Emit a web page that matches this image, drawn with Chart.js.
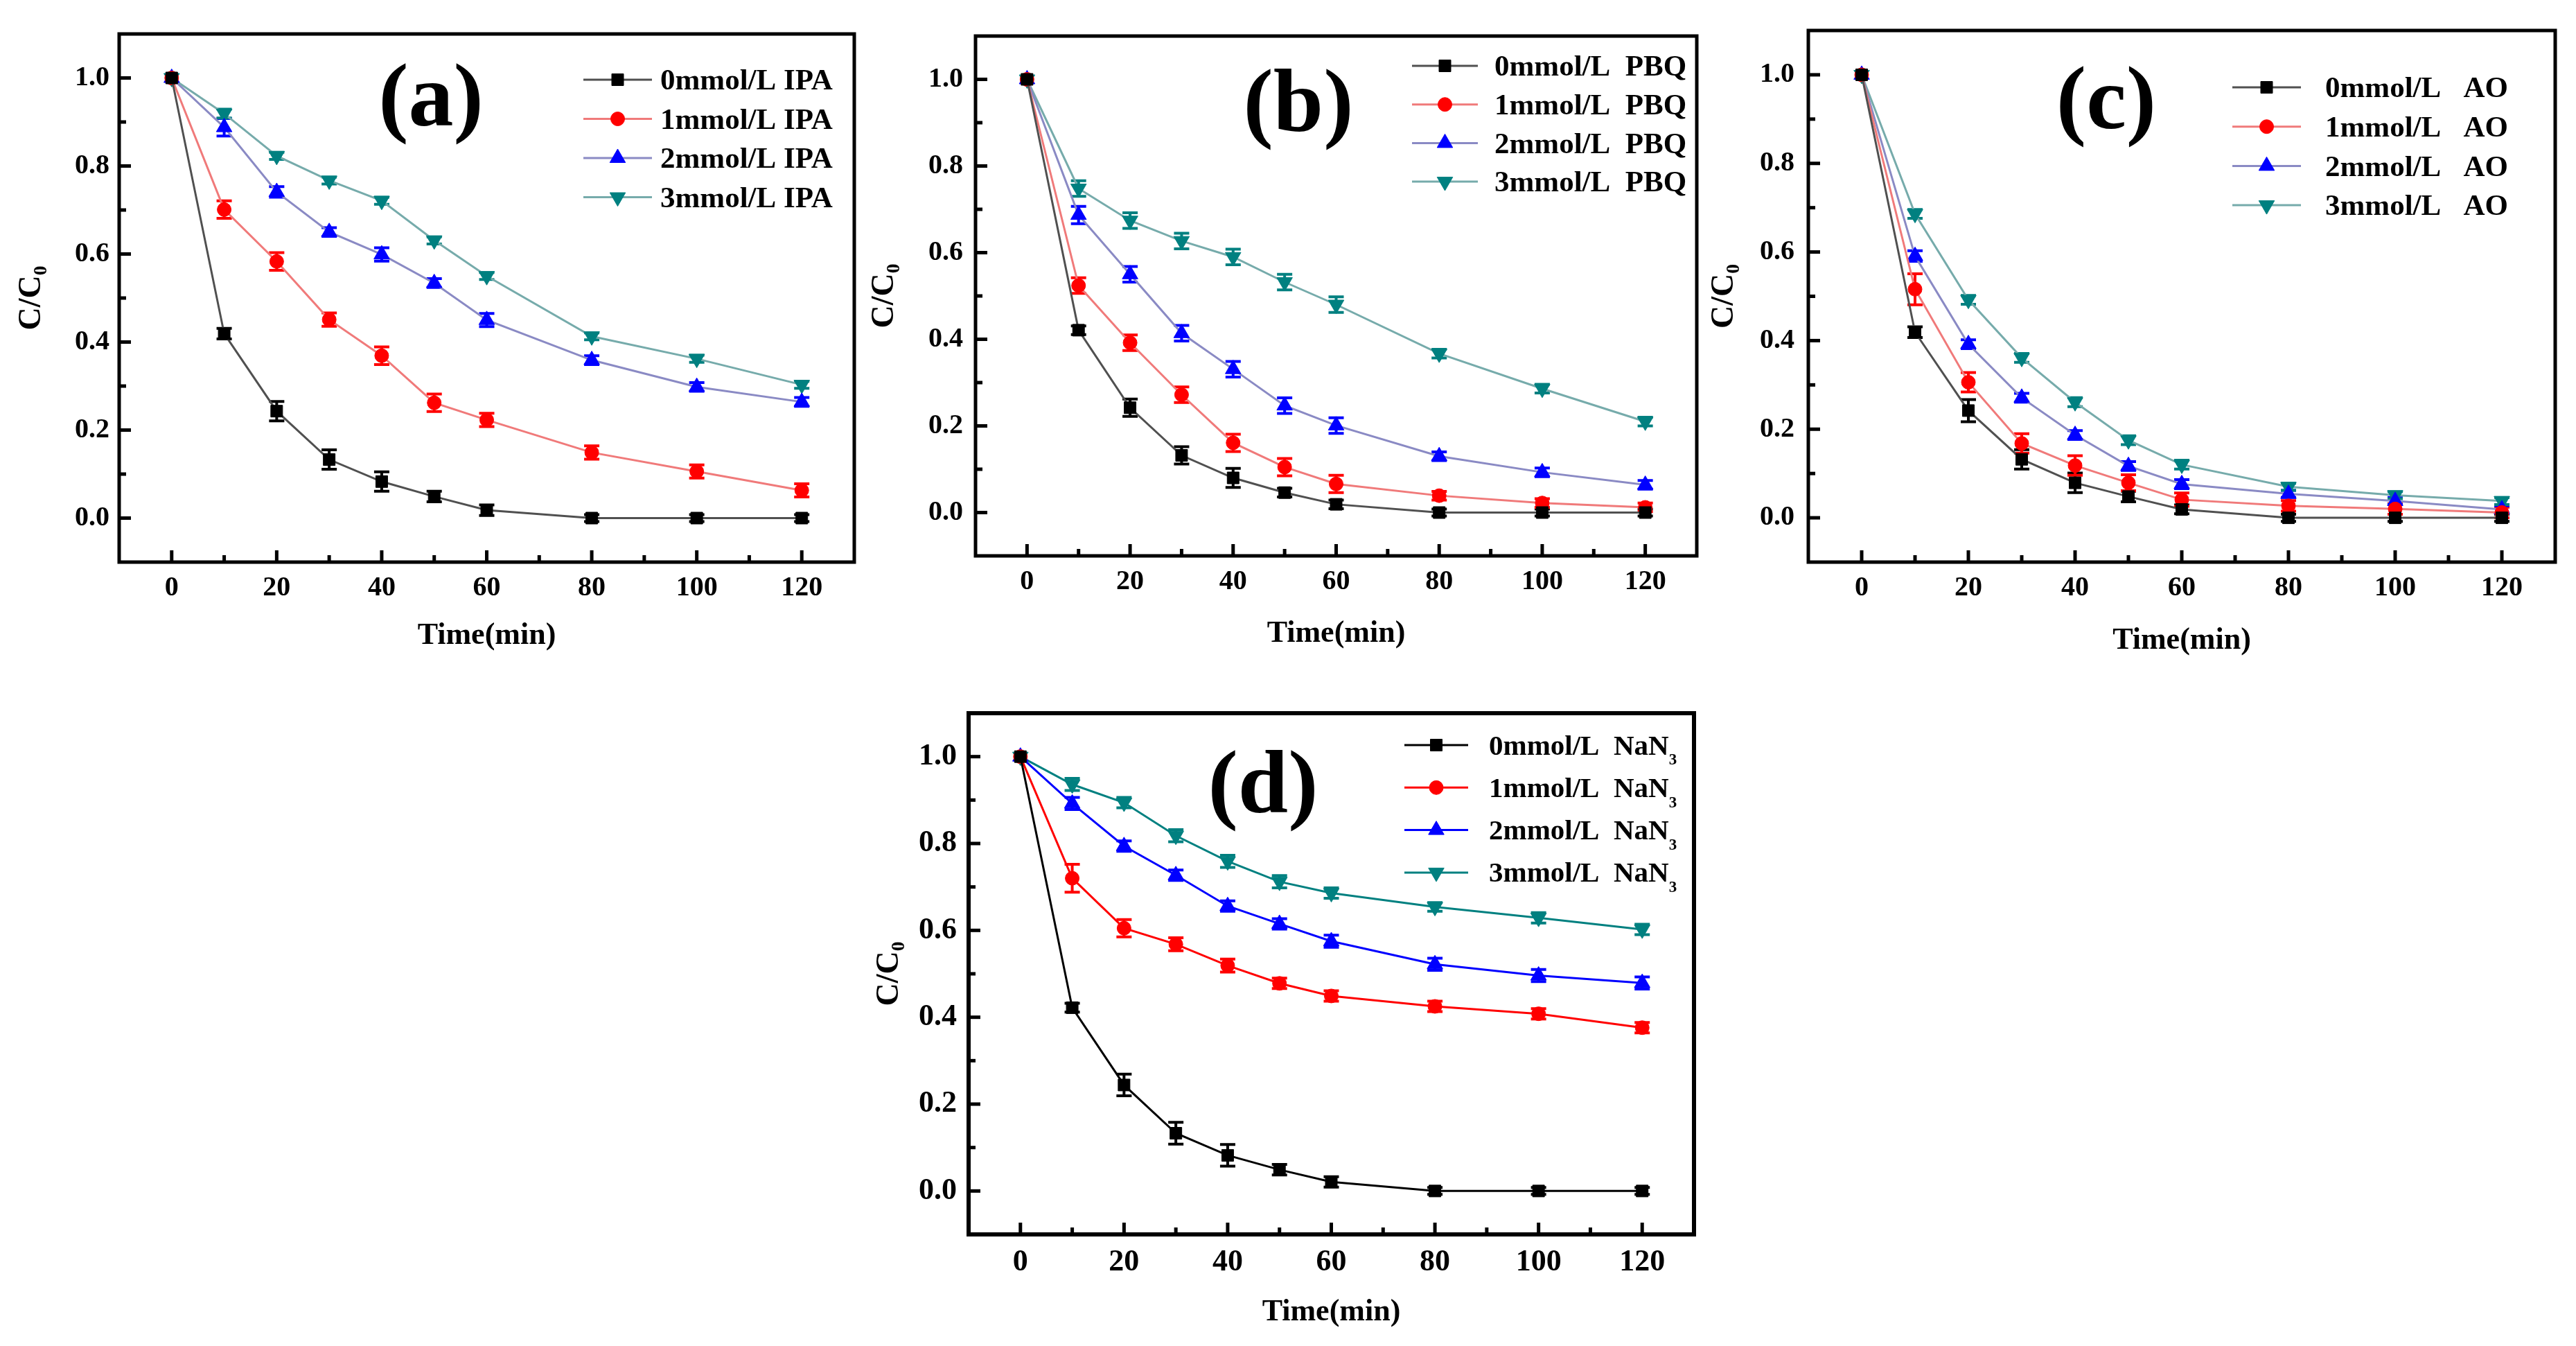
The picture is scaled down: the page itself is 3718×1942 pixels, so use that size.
<!DOCTYPE html>
<html>
<head>
<meta charset="utf-8">
<script src="https://cdn.jsdelivr.net/npm/chart.js@4.4.1/dist/chart.umd.min.js"></script>
<style>
  html, body { margin: 0; padding: 0; background: #fff; }
  body { width: 3718px; height: 1942px; position: relative; overflow: hidden; }
  canvas { position: absolute; }
</style>
</head>
<body>
<canvas id="chartA"></canvas>
<canvas id="chartB"></canvas>
<canvas id="chartC"></canvas>
<canvas id="chartD"></canvas>
<script>
// ---- data ----
const timeMin = [0, 10, 20, 30, 40, 50, 60, 80, 100, 120];
const tickLabelsX = [0, 20, 40, 60, 80, 100, 120];
const tickLabelsY = [0, 0.2, 0.4, 0.6, 0.8, 1.0];
const seriesNames = ['0mmol/L', '1mmol/L', '2mmol/L', '3mmol/L'];

// (a) IPA
const ipa0 = [1.0, 0.419, 0.243, 0.133, 0.083, 0.049, 0.018, 0, 0, 0];
const ipa1 = [1.0, 0.701, 0.583, 0.451, 0.369, 0.262, 0.223, 0.149, 0.106, 0.063];
const ipa2 = [1.0, 0.888, 0.741, 0.650, 0.599, 0.534, 0.450, 0.359, 0.298, 0.264];
const ipa3 = [1.0, 0.919, 0.823, 0.767, 0.721, 0.631, 0.550, 0.413, 0.362, 0.303];
const ipaErr0 = [0, 0.012, 0.022, 0.022, 0.022, 0.012, 0.012, 0.008, 0.008, 0.008];
const ipaErr1 = [0, 0.020, 0.020, 0.015, 0.020, 0.020, 0.015, 0.015, 0.015, 0.015];
const ipaErr2 = [0, 0.020, 0.012, 0.010, 0.015, 0.010, 0.015, 0.010, 0.010, 0.010];
const ipaErr3 = [0, 0.010, 0.008, 0.008, 0.008, 0.008, 0.008, 0.008, 0.008, 0.008];

// (b) PBQ
const pbq0 = [1.0, 0.421, 0.242, 0.132, 0.080, 0.046, 0.019, 0, 0, 0];
const pbq1 = [1.0, 0.524, 0.392, 0.272, 0.161, 0.105, 0.066, 0.039, 0.022, 0.012];
const pbq2 = [1.0, 0.687, 0.550, 0.414, 0.331, 0.247, 0.201, 0.130, 0.093, 0.064];
const pbq3 = [1.0, 0.748, 0.674, 0.627, 0.590, 0.532, 0.480, 0.367, 0.286, 0.210];
const pbqErr0 = [0, 0.010, 0.020, 0.020, 0.022, 0.010, 0.010, 0.008, 0.008, 0.008];
const pbqErr1 = [0, 0.018, 0.018, 0.018, 0.020, 0.020, 0.020, 0.010, 0.010, 0.010];
const pbqErr2 = [0, 0.020, 0.018, 0.018, 0.018, 0.018, 0.018, 0.010, 0.010, 0.010];
const pbqErr3 = [0, 0.018, 0.018, 0.018, 0.018, 0.018, 0.018, 0.010, 0.010, 0.010];

// (c) AO
const ao0 = [1.0, 0.419, 0.242, 0.132, 0.079, 0.048, 0.019, 0, 0, 0];
const ao1 = [1.0, 0.516, 0.306, 0.168, 0.118, 0.079, 0.041, 0.027, 0.020, 0.012];
const ao2 = [1.0, 0.591, 0.392, 0.271, 0.187, 0.117, 0.076, 0.054, 0.038, 0.019];
const ao3 = [1.0, 0.686, 0.492, 0.361, 0.261, 0.175, 0.120, 0.070, 0.051, 0.038];
const aoErr0 = [0, 0.012, 0.025, 0.022, 0.022, 0.012, 0.010, 0.008, 0.008, 0.008];
const aoErr1 = [0, 0.035, 0.022, 0.022, 0.022, 0.018, 0.015, 0.012, 0.012, 0.012];
const aoErr2 = [0, 0.012, 0.010, 0.010, 0.010, 0.010, 0.010, 0.008, 0.008, 0.008];
const aoErr3 = [0, 0.010, 0.010, 0.010, 0.010, 0.010, 0.010, 0.008, 0.008, 0.008];

// (d) NaN3
const nan0 = [1.0, 0.422, 0.244, 0.133, 0.082, 0.049, 0.021, 0, 0, 0];
const nan1 = [1.0, 0.720, 0.605, 0.568, 0.519, 0.478, 0.449, 0.425, 0.408, 0.376];
const nan2 = [1.0, 0.892, 0.794, 0.727, 0.656, 0.615, 0.575, 0.522, 0.496, 0.479];
const nan3 = [1.0, 0.936, 0.894, 0.818, 0.759, 0.712, 0.686, 0.654, 0.629, 0.602];
const nanErr0 = [0, 0.010, 0.025, 0.025, 0.025, 0.012, 0.012, 0.008, 0.008, 0.008];
const nanErr1 = [0, 0.032, 0.020, 0.015, 0.015, 0.012, 0.012, 0.012, 0.012, 0.012];
const nanErr2 = [0, 0.014, 0.012, 0.012, 0.012, 0.012, 0.014, 0.014, 0.014, 0.014];
const nanErr3 = [0, 0.014, 0.012, 0.014, 0.014, 0.014, 0.012, 0.010, 0.012, 0.012];

// ---- styles ----
const markerColor = ['#000000', '#ff0000', '#0000ff', '#008080'];
const fadedLine = ['#505050', '#f07a7a', '#8a8ac4', '#76abab'];
const pureLine = ['#000000', '#ff0000', '#0000ff', '#008080'];
const markerStyle = ['rect', 'circle', 'triangle', 'triangle'];
const markerRotation = [0, 0, 0, 180];
const markerSize = [12, 10, 13, 13];
const FONT = "'Liberation Serif', 'DejaVu Serif', serif";

Chart.defaults.font.family = FONT;
Chart.defaults.font.weight = 'bold';
Chart.defaults.color = '#000';

// frame box + inward ticks on the left and bottom axes
const framePlugin = {
  id: 'frame',
  afterDatasetsDraw(chart, args, opts) {
    const { ctx, chartArea: a, scales: { x, y } } = chart;
    ctx.save();
    ctx.strokeStyle = '#000';
    ctx.lineWidth = opts.tickWidth;
    x.ticks.forEach(t => {
      const v = Math.round(t.value);
      if (v <= x.min || v >= x.max) return;
      const px = x.getPixelForValue(v);
      const len = v % 20 === 0 ? opts.major : opts.minor;
      ctx.beginPath();
      ctx.moveTo(px, a.bottom);
      ctx.lineTo(px, a.bottom - len);
      ctx.stroke();
    });
    y.ticks.forEach(t => {
      const k = Math.round(t.value * 10);
      if (k <= -1 || k >= 11) return;
      const py = y.getPixelForValue(k / 10);
      const len = k % 2 === 0 ? opts.major : opts.minor;
      ctx.beginPath();
      ctx.moveTo(a.left, py);
      ctx.lineTo(a.left + len, py);
      ctx.stroke();
    });
    ctx.lineWidth = opts.width;
    ctx.strokeRect(a.left, a.top, a.width, a.height);
    ctx.restore();
  }
};

// vertical error bars with caps
const errorBarPlugin = {
  id: 'errorBars',
  beforeDatasetsDraw(chart, args, opts) {
    const { ctx, scales: { y } } = chart;
    chart.data.datasets.forEach((ds, i) => {
      if (!ds.errors) return;
      const meta = chart.getDatasetMeta(i);
      ctx.save();
      ctx.strokeStyle = ds.pointBackgroundColor;
      ctx.lineWidth = opts.width;
      meta.data.forEach((pt, j) => {
        const e = ds.errors[j];
        if (!e) return;
        const v = ds.data[j].y;
        const top = y.getPixelForValue(v + e);
        const bot = y.getPixelForValue(v - e);
        ctx.beginPath();
        ctx.moveTo(pt.x, top); ctx.lineTo(pt.x, bot);
        ctx.moveTo(pt.x - opts.cap, top); ctx.lineTo(pt.x + opts.cap, top);
        ctx.moveTo(pt.x - opts.cap, bot); ctx.lineTo(pt.x + opts.cap, bot);
        ctx.stroke();
      });
      ctx.restore();
    });
  }
};

// text with unicode subscript digits drawn small and lowered
function drawRichText(ctx, text, x, baseline, size) {
  const subs = '₀₁₂₃₄₅₆₇₈₉';
  let cx = x;
  let run = '';
  const flush = () => {
    if (!run) return;
    ctx.font = `bold ${size}px ${FONT}`;
    ctx.fillText(run, cx, baseline);
    cx += ctx.measureText(run).width;
    run = '';
  };
  for (const ch of text) {
    const k = subs.indexOf(ch);
    if (k < 0) { run += ch; continue; }
    flush();
    ctx.font = `bold ${Math.round(size * 0.55)}px ${FONT}`;
    ctx.fillText(String(k), cx, baseline + size * 0.36);
    cx += ctx.measureText(String(k)).width;
  }
  flush();
}

// legend inside the plot: line segment + marker + label
const insetLegend = {
  id: 'insetLegend',
  afterDraw(chart, args, opts) {
    const ctx = chart.ctx;
    chart.data.datasets.forEach((ds, i) => {
      const cy = opts.y + i * opts.gap;
      ctx.save();
      ctx.strokeStyle = ds.borderColor;
      ctx.lineWidth = ds.borderWidth;
      ctx.beginPath();
      ctx.moveTo(opts.x, cy);
      ctx.lineTo(opts.x + opts.lineLength, cy);
      ctx.stroke();
      ctx.fillStyle = ds.pointBackgroundColor;
      ctx.strokeStyle = ds.pointBorderColor;
      ctx.lineWidth = 1;
      Chart.helpers.drawPoint(ctx, {
        pointStyle: ds.pointStyle,
        rotation: ds.pointRotation,
        radius: ds.pointRadius,
        borderWidth: 1
      }, opts.x + opts.lineLength / 2, cy);
      ctx.fillStyle = '#000';
      ctx.textAlign = 'left';
      ctx.textBaseline = 'alphabetic';
      drawRichText(ctx, ds.label, opts.textX, cy + opts.fontSize * 0.33, opts.fontSize);
      ctx.restore();
    });
  }
};

// panel letter "(a)" etc.
const panelLetter = {
  id: 'panelLetter',
  afterDraw(chart, args, opts) {
    const ctx = chart.ctx;
    ctx.save();
    ctx.font = `bold ${opts.size}px ${FONT}`;
    ctx.fillStyle = '#000';
    ctx.textAlign = 'center';
    ctx.textBaseline = 'middle';
    ctx.fillText(opts.text, opts.x, opts.y);
    ctx.restore();
  }
};

function buildDatasets(seriesList, errList, suffix, lineColors) {
  return seriesList.map((vals, i) => ({
    label: seriesNames[i] + suffix,
    data: timeMin.map((t, j) => ({ x: t, y: vals[j] })),
    errors: errList[i],
    borderColor: lineColors[i],
    borderWidth: 3,
    pointStyle: markerStyle[i],
    pointRotation: markerRotation[i],
    pointRadius: markerSize[i],
    pointBackgroundColor: markerColor[i],
    pointBorderColor: markerColor[i],
    pointBorderWidth: 1,
    tension: 0,
    fill: false
  }));
}

function makePanel(id, box, datasets, look) {
  const canvas = document.getElementById(id);
  canvas.width = box.width;
  canvas.height = box.height;
  canvas.style.left = box.left + 'px';
  canvas.style.top = box.top + 'px';
  canvas.style.width = box.width + 'px';
  canvas.style.height = box.height + 'px';
  const [aL, aT, aR, aB] = box.area;

  new Chart(canvas, {
    type: 'line',
    data: { datasets },
    options: {
      responsive: false,
      animation: false,
      devicePixelRatio: 1,
      layout: { padding: { top: aT, right: box.width - aR, left: 0, bottom: 0 } },
      scales: {
        x: {
          type: 'linear',
          min: -10, max: 130,
          grid: { display: false, drawTicks: false },
          border: { display: false },
          afterFit: s => { s.height = box.height - aB; },
          ticks: {
            stepSize: 10, autoSkip: false, maxRotation: 0,
            padding: look.xTickPad,
            font: { size: look.tickSize, weight: 'bold' },
            callback: v => tickLabelsX.includes(Math.round(v)) ? String(Math.round(v)) : ''
          },
          title: {
            display: true, text: 'Time(min)',
            font: { size: look.xTitleSize, weight: 'bold' },
            padding: { top: 0, bottom: look.xTitlePad }
          }
        },
        y: {
          min: -0.1, max: 1.1,
          grid: { display: false, drawTicks: false },
          border: { display: false },
          afterFit: s => { s.width = aL; },
          ticks: {
            stepSize: 0.1, autoSkip: false,
            padding: look.yTickPad,
            font: { size: look.tickSize, weight: 'bold' },
            callback: v => tickLabelsY.some(t => Math.abs(t - v) < 1e-6) ? v.toFixed(1) : ''
          },
          title: {
            display: true, text: 'C/C₀',
            font: { size: 46, weight: 'bold' },
            padding: { top: look.yTitlePad, bottom: 0 }
          }
        }
      },
      plugins: {
        legend: { display: false },
        tooltip: { enabled: false },
        frame: { width: look.frameWidth, tickWidth: 5, major: 17, minor: 10 },
        errorBars: { width: 4, cap: 11 },
        insetLegend: look.legend,
        panelLetter: look.letter
      }
    },
    plugins: [errorBarPlugin, framePlugin, insetLegend, panelLetter]
  });
}

makePanel('chartA',
  { left: 0, top: 0, width: 1260, height: 960, area: [172, 49, 1233, 811] },
  buildDatasets([ipa0, ipa1, ipa2, ipa3], [ipaErr0, ipaErr1, ipaErr2, ipaErr3], ' IPA', fadedLine),
  { tickSize: 40, xTickPad: 14, yTickPad: 14, xTitleSize: 44, xTitlePad: 16, yTitlePad: 19, frameWidth: 5,
    legend: { x: 842, y: 115, gap: 56.5, lineLength: 99, textX: 953, fontSize: 43 },
    letter: { text: '(a)', x: 622, y: 147, size: 130 } });

makePanel('chartB',
  { left: 1240, top: 0, width: 1240, height: 960, area: [168, 52, 1209, 802] },
  buildDatasets([pbq0, pbq1, pbq2, pbq3], [pbqErr0, pbqErr1, pbqErr2, pbqErr3], '  PBQ', fadedLine),
  { tickSize: 40, xTickPad: 14, yTickPad: 18, xTitleSize: 44, xTitlePad: 19, yTitlePad: 10, frameWidth: 5,
    legend: { x: 798, y: 95, gap: 55.7, lineLength: 95, textX: 917, fontSize: 43 },
    letter: { text: '(b)', x: 634, y: 155, size: 130 } });

makePanel('chartC',
  { left: 2440, top: 0, width: 1278, height: 960, area: [170, 43, 1248, 811] },
  buildDatasets([ao0, ao1, ao2, ao3], [aoErr0, aoErr1, aoErr2, aoErr3], '   AO', fadedLine),
  { tickSize: 40, xTickPad: 14, yTickPad: 20, xTitleSize: 44, xTitlePad: 9, yTitlePad: 22, frameWidth: 5,
    legend: { x: 782, y: 126, gap: 56.7, lineLength: 99, textX: 916, fontSize: 43 },
    letter: { text: '(c)', x: 600, y: 151, size: 130 } });

makePanel('chartD',
  { left: 1240, top: 980, width: 1240, height: 962, area: [158, 49, 1205, 801] },
  buildDatasets([nan0, nan1, nan2, nan3], [nanErr0, nanErr1, nanErr2, nanErr3], '  NaN₃', pureLine),
  { tickSize: 44, xTickPad: 14, yTickPad: 17, xTitleSize: 44, xTitlePad: 22, yTitlePad: 17, frameWidth: 6,
    legend: { x: 787, y: 95, gap: 61.3, lineLength: 92, textX: 909, fontSize: 41 },
    letter: { text: '(d)', x: 583, y: 158, size: 130 } });
</script>
</body>
</html>
